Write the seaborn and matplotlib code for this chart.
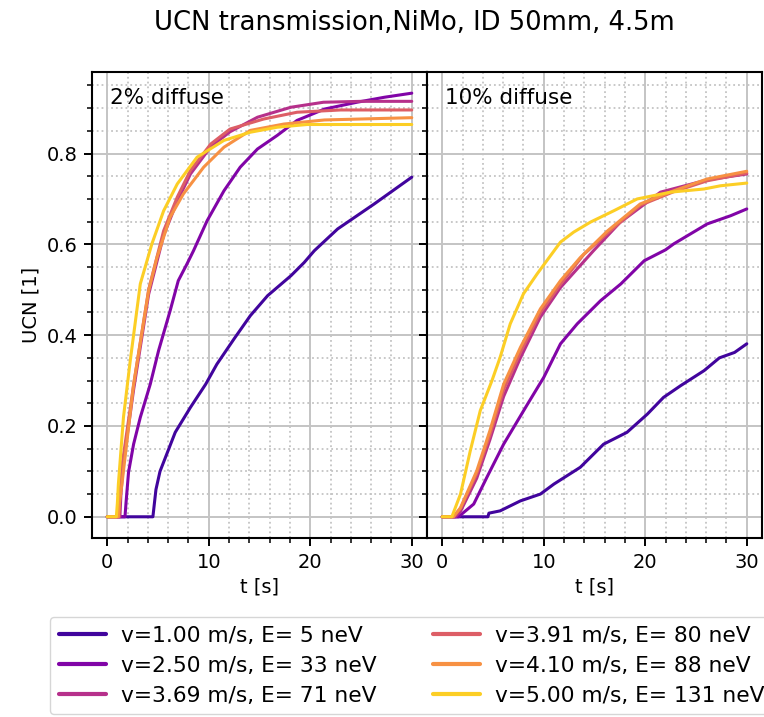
import numpy as np
import pandas as pd
import matplotlib
matplotlib.use("Agg")
import matplotlib.pyplot as plt
import seaborn as sns

# ---- data (t in s, UCN fraction) ----
labels = ["v=1.00 m/s, E= 5 neV", "v=2.50 m/s, E= 33 neV", "v=3.69 m/s, E= 71 neV",
          "v=3.91 m/s, E= 80 neV", "v=4.10 m/s, E= 88 neV", "v=5.00 m/s, E= 131 neV"]
panel_titles = ["2% diffuse", "10% diffuse"]

# 2% diffuse
t_d2_v100 = [0, 4.5, 4.6, 4.8, 5.2, 6.7, 8.2, 9.7, 10.8, 12.5, 14.1, 15.8, 18.1, 19.4, 20.4, 22.7, 26.3, 30]
y_d2_v100 = [0, 0, 0.02, 0.06, 0.10, 0.186, 0.241, 0.292, 0.336, 0.392, 0.443, 0.487, 0.531, 0.560, 0.586, 0.634, 0.689, 0.748]
t_d2_v250 = [0, 1.75, 1.85, 2.1, 2.6, 3.26, 4.24, 5.06, 6.2, 7.0, 7.86, 8.5, 9.84, 11.5, 13.1, 14.8, 16.75, 18.7, 21.4, 24.6, 27.3, 30]
y_d2_v250 = [0, 0, 0.03, 0.098, 0.16, 0.219, 0.292, 0.366, 0.454, 0.52, 0.557, 0.586, 0.652, 0.718, 0.77, 0.81, 0.84, 0.873, 0.898, 0.913, 0.924, 0.933]
t_d2_v369 = [0, 1.25, 1.35, 1.6, 2.6, 4.08, 5.56, 6.9, 8.2, 10.2, 12.1, 14.8, 18.1, 21.3, 25.0, 30]
y_d2_v369 = [0, 0, 0.05, 0.12, 0.28, 0.49, 0.62, 0.695, 0.755, 0.815, 0.848, 0.88, 0.902, 0.913, 0.915, 0.915]
t_d2_v391 = [0, 1.15, 1.25, 1.5, 2.6, 4.08, 5.56, 6.9, 8.2, 10.2, 12.1, 15.4, 18.7, 23.0, 30]
y_d2_v391 = [0, 0, 0.05, 0.12, 0.29, 0.50, 0.63, 0.704, 0.763, 0.821, 0.854, 0.876, 0.891, 0.896, 0.896]
t_d2_v410 = [0, 1.1, 1.2, 1.45, 2.6, 4.08, 4.9, 6.2, 7.5, 9.5, 11.5, 14.1, 17.4, 21.4, 30]
y_d2_v410 = [0, 0, 0.03, 0.072, 0.292, 0.498, 0.571, 0.66, 0.711, 0.77, 0.814, 0.851, 0.865, 0.874, 0.879]
t_d2_v500 = [0, 0.9, 1.0, 1.1, 1.6, 2.27, 3.26, 4.4, 5.56, 6.9, 8.85, 11.5, 14.1, 16.75, 19.7, 30]
y_d2_v500 = [0, 0, 0.03, 0.072, 0.219, 0.344, 0.513, 0.601, 0.674, 0.733, 0.792, 0.829, 0.847, 0.858, 0.864, 0.864]

# 10% diffuse
t_d10_v100 = [0, 4.5, 4.6, 5.7, 7.7, 9.67, 11.0, 13.6, 15.9, 18.2, 20.2, 21.8, 23.5, 25.8, 27.3, 28.8, 30]
y_d10_v100 = [0, 0, 0.008, 0.013, 0.035, 0.05, 0.072, 0.109, 0.16, 0.186, 0.226, 0.263, 0.289, 0.322, 0.35, 0.362, 0.381]
t_d10_v250 = [0, 1.6, 3.1, 4.4, 6.05, 8.4, 10.0, 11.65, 13.3, 15.6, 17.6, 19.9, 22.0, 22.8, 26.1, 28.4, 30]
y_d10_v250 = [0, 0, 0.028, 0.087, 0.16, 0.248, 0.307, 0.381, 0.425, 0.476, 0.513, 0.564, 0.588, 0.601, 0.645, 0.663, 0.678]
t_d10_v369 = [0, 1.3, 1.8, 3.4, 4.7, 6.05, 7.7, 9.67, 11.65, 14.9, 17.5, 21.5, 26.1, 30]
y_d10_v369 = [0, 0, 0.012, 0.085, 0.17, 0.265, 0.35, 0.44, 0.505, 0.586, 0.648, 0.715, 0.742, 0.755]
t_d10_v391 = [0, 1.1, 1.8, 3.4, 4.7, 6.05, 7.7, 9.67, 11.65, 13.95, 16.3, 19.5, 22.8, 26.1, 30]
y_d10_v391 = [0, 0, 0.018, 0.095, 0.18, 0.28, 0.362, 0.45, 0.512, 0.578, 0.625, 0.686, 0.716, 0.74, 0.757]
t_d10_v410 = [0, 1.1, 1.8, 3.4, 4.7, 6.05, 7.7, 9.67, 11.65, 13.6, 16.3, 19.5, 22.8, 26.1, 30]
y_d10_v410 = [0, 0, 0.02, 0.101, 0.19, 0.292, 0.373, 0.458, 0.52, 0.571, 0.63, 0.689, 0.718, 0.744, 0.761]
t_d10_v500 = [0, 0.95, 1.8, 2.76, 3.75, 4.9, 5.7, 6.7, 8.0, 9.35, 10.3, 11.65, 12.95, 14.6, 16.9, 19.2, 22.5, 25.8, 27.4, 30]
y_d10_v500 = [0, 0, 0.05, 0.145, 0.234, 0.30, 0.351, 0.425, 0.491, 0.535, 0.564, 0.605, 0.627, 0.649, 0.674, 0.70, 0.715, 0.722, 0.729, 0.735]

curves_d2 = [(t_d2_v100, y_d2_v100), (t_d2_v250, y_d2_v250), (t_d2_v369, y_d2_v369),
             (t_d2_v391, y_d2_v391), (t_d2_v410, y_d2_v410), (t_d2_v500, y_d2_v500)]
curves_d10 = [(t_d10_v100, y_d10_v100), (t_d10_v250, y_d10_v250), (t_d10_v369, y_d10_v369),
              (t_d10_v391, y_d10_v391), (t_d10_v410, y_d10_v410), (t_d10_v500, y_d10_v500)]


def to_frame(curves):
    rows = []
    for lab, (t, y) in zip(labels, curves):
        for ti, yi in zip(t, y):
            rows.append((lab, ti, yi))
    return pd.DataFrame(rows, columns=["label", "t", "ucn"])


sns.set_style("ticks")
plt.rcParams["font.family"] = ["DejaVu Sans"]
plt.rcParams["axes.linewidth"] = 1.5
plt.rcParams["text.color"] = "black"
plt.rcParams["axes.labelcolor"] = "black"
plt.rcParams["xtick.color"] = "black"
plt.rcParams["ytick.color"] = "black"

palette = dict(zip(labels, plt.cm.plasma(np.linspace(0.1, 0.9, 6))))

fig = plt.figure(figsize=(7.64, 7.17), dpi=100)
ax1 = fig.add_axes([0.1204, 0.2497, 0.4385, 0.6499])
ax2 = fig.add_axes([0.5589, 0.2497, 0.4385, 0.6499], sharey=ax1)

for ax, curves, name in zip([ax1, ax2], [curves_d2, curves_d10], panel_titles):
    df = to_frame(curves)
    sns.lineplot(data=df, x="t", y="ucn", hue="label", palette=palette,
                 estimator=None, sort=False, linewidth=2.2, ax=ax, legend=(ax is ax1))
    ax.minorticks_on()
    ax.grid(which="major", color="#c4c4c4", linewidth=1.4)
    ax.grid(which="minor", color="#c4c4c4", linestyle=":", linewidth=1.3)
    ax.set_axisbelow(True)
    ax.set_xticks([0, 10, 20, 30])
    ax.set_xlabel("t [s]", fontsize=14)
    ax.tick_params(which="major", labelsize=14, width=1.4, length=5.5, pad=5)
    ax.tick_params(which="minor", width=1.1, length=3.5)
    ax.text(0.054, 0.931, name, transform=ax.transAxes, fontsize=15.5,
            va="baseline", ha="left")
    for sp in ax.spines.values():
        sp.set_color("black")

ax1.set_yticks([0.0, 0.2, 0.4, 0.6, 0.8])
ax1.set_ylabel("UCN [1]", fontsize=14)
ax2.set_ylabel("")
ax2.tick_params(labelleft=False)

handles, labs = ax1.get_legend_handles_labels()
ax1.get_legend().remove()
for h in handles:
    h.set_linewidth(3)
fig.legend(handles, labs, loc="upper left", bbox_to_anchor=(0.0654, 0.1395), ncol=2,
           fontsize=15.7, frameon=True, columnspacing=2.6, handlelength=2.15,
           handletextpad=0.7, labelspacing=0.46, borderpad=0.4, borderaxespad=0)

fig.text(0.5425, 0.958, "UCN transmission,NiMo, ID 50mm, 4.5m", fontsize=18.6,
         ha="center", va="baseline")

fig.savefig("out.png", dpi=100)
